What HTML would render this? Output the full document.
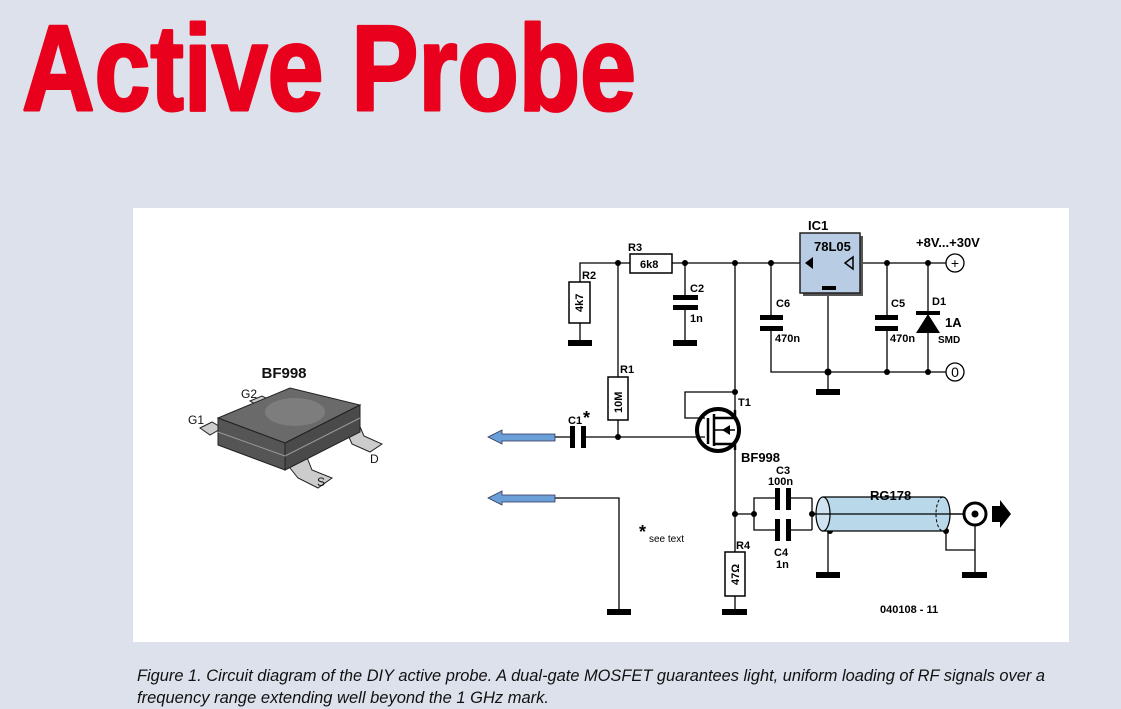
<!DOCTYPE html>
<html><head><meta charset="utf-8"><style>
html,body{margin:0;padding:0;background:#dde1ec;}
svg{display:block;}
</style></head><body>
<svg width="1121" height="709" viewBox="0 0 1121 709" xmlns="http://www.w3.org/2000/svg" font-family="Liberation Sans, Arial, sans-serif">
<rect width="1121" height="709" fill="#dde1ec"/>
<text x="22" y="110" font-size="122" font-weight="bold" fill="#e8001c" stroke="#e8001c" stroke-width="3" stroke-linejoin="round" textLength="614" lengthAdjust="spacingAndGlyphs">Active Probe</text>
<rect x="133" y="208" width="936" height="434" fill="#fff"/>

<!-- BF998 package -->
<text x="284" y="378" font-size="15" font-weight="bold" text-anchor="middle" fill="#111">BF998</text>
<g stroke="#222" stroke-width="1">
<polygon points="200,428 212,422 222,428 210,435" fill="#ccc"/>
<polygon points="250,401 262,396 272,401 260,407" fill="#ccc"/>
<polygon points="345,428 358,422 364,436 382,444 370,452 352,444" fill="#ccc"/>
<polygon points="282,458 304,450 312,470 332,478 318,488 298,478" fill="#ccc"/>
<polygon points="218,418 290,388 360,405 285,443" fill="#6a6a6a"/>
<polygon points="218,418 285,443 285,470 218,445" fill="#555"/>
<polygon points="285,443 360,405 360,432 285,470" fill="#4a4a4a"/>
</g>
<ellipse cx="295" cy="412" rx="30" ry="14" fill="#8a8a8a" opacity="0.6"/>
<line x1="218" y1="432" x2="285" y2="456" stroke="#999" stroke-width="1"/>
<line x1="285" y1="456" x2="360" y2="418" stroke="#999" stroke-width="1"/>
<g font-size="12" fill="#111">
<text x="188" y="424">G1</text><text x="241" y="398">G2</text>
<text x="370" y="463">D</text><text x="317" y="486">S</text>
</g>

<!-- wires -->
<g stroke="#000" stroke-width="1.3" fill="none">
<polyline points="580,282 580,263 630,263"/>
<line x1="672" y1="263" x2="800" y2="263"/>
<line x1="580" y1="323" x2="580" y2="343"/>
<line x1="618" y1="263" x2="618" y2="377"/>
<line x1="618" y1="420" x2="618" y2="437"/>
<line x1="685" y1="263" x2="685" y2="297"/>
<line x1="685" y1="307" x2="685" y2="343"/>
<line x1="771" y1="263" x2="771" y2="317"/>
<polyline points="771,328 771,372 928,372"/>
<line x1="828" y1="293" x2="828" y2="392"/>
<line x1="862" y1="263" x2="946" y2="263"/>
<line x1="887" y1="263" x2="887" y2="317"/>
<line x1="887" y1="328" x2="887" y2="372"/>
<line x1="928" y1="263" x2="928" y2="372"/>
<line x1="928" y1="372" x2="946" y2="372"/>
<line x1="735" y1="263" x2="735" y2="410"/>
<polyline points="735,392 685,392 685,418 705,418"/>
<line x1="555" y1="437" x2="572" y2="437"/>
<line x1="584" y1="437" x2="705" y2="437"/>
<line x1="735" y1="448" x2="735" y2="552"/>
<line x1="735" y1="596" x2="735" y2="612"/>
<line x1="735" y1="514" x2="754" y2="514"/>
<polyline points="754,514 754,498 776,498"/><line x1="788" y1="498" x2="812" y2="498"/>
<polyline points="754,514 754,530 776,530"/><line x1="788" y1="530" x2="812" y2="530"/>
<line x1="812" y1="498" x2="812" y2="530"/>
<line x1="812" y1="514" x2="963" y2="514"/>
<line x1="828" y1="530" x2="828" y2="575"/>
<polyline points="946,530 946,550 975,550"/>
<line x1="975" y1="526" x2="975" y2="575"/>
<polyline points="555,498 619,498 619,612"/>
</g>
<!-- T1 -->
<circle cx="718" cy="430" r="21" fill="none" stroke="#000" stroke-width="4"/>
<g stroke="#000" stroke-width="2.5">
<line x1="708" y1="418" x2="708" y2="444"/>
<line x1="714" y1="414" x2="714" y2="446"/>
<line x1="714" y1="418" x2="735" y2="418"/>
<line x1="714" y1="444" x2="735" y2="444"/>
<line x1="735" y1="410" x2="735" y2="418"/>
<line x1="735" y1="444" x2="735" y2="450"/>
</g>
<polygon points="722,430 730,425 730,435" fill="#000"/>
<line x1="714" y1="430" x2="735" y2="430" stroke="#000" stroke-width="1.5"/>

<!-- resistors -->
<g fill="#fff" stroke="#000" stroke-width="1.5">
<rect x="569" y="282" width="21" height="41"/>
<rect x="630" y="254" width="42" height="19"/>
<rect x="608" y="377" width="20" height="43"/>
<rect x="725" y="552" width="20" height="44"/>
</g>
<g font-size="11" font-weight="bold" fill="#000">
<text x="583" y="312" transform="rotate(-90 583 312)">4k7</text>
<text x="640" y="268">6k8</text>
<text x="622" y="413" transform="rotate(-90 622 413)">10M</text>
<text x="739" y="585" transform="rotate(-90 739 585)">47Ω</text>
</g>
<!-- capacitors -->
<g fill="#000">
<rect x="673" y="295" width="25" height="5"/><rect x="673" y="305" width="25" height="5"/>
<rect x="760" y="315" width="23" height="5"/><rect x="760" y="326" width="23" height="5"/>
<rect x="875" y="315" width="23" height="5"/><rect x="875" y="326" width="23" height="5"/>
<rect x="570" y="426" width="5" height="22"/><rect x="581" y="426" width="5" height="22"/>
<rect x="775" y="488" width="5" height="22"/><rect x="786" y="488" width="5" height="22"/>
<rect x="775" y="519" width="5" height="22"/><rect x="786" y="519" width="5" height="22"/>
<!-- grounds -->
<rect x="568" y="340" width="24" height="6"/>
<rect x="673" y="340" width="24" height="6"/>
<rect x="816" y="389" width="24" height="6"/>
<rect x="607" y="609" width="24" height="6"/>
<rect x="722" y="609" width="25" height="6"/>
<rect x="816" y="572" width="24" height="6"/>
<rect x="962" y="572" width="25" height="6"/>
<!-- diode -->
<polygon points="916,333 940,333 928,314"/>
<rect x="916" y="311" width="24" height="4"/>
</g>
<!-- dots -->
<g fill="#000">
<circle cx="618" cy="263" r="3"/><circle cx="685" cy="263" r="3"/><circle cx="735" cy="263" r="3"/>
<circle cx="771" cy="263" r="3"/><circle cx="887" cy="263" r="3"/><circle cx="928" cy="263" r="3"/>
<circle cx="828" cy="372" r="3.5"/><circle cx="887" cy="372" r="3"/><circle cx="928" cy="372" r="3"/>
<circle cx="735" cy="392" r="3"/><circle cx="618" cy="437" r="3"/>
<circle cx="735" cy="514" r="3"/><circle cx="754" cy="514" r="3"/><circle cx="812" cy="514" r="3"/>
<circle cx="830" cy="531" r="3"/><circle cx="946" cy="531" r="3"/>
</g>
<!-- IC1 -->
<rect x="803" y="236" width="60" height="60" fill="#555"/>
<rect x="800" y="233" width="60" height="60" fill="#b8cce4" stroke="#222" stroke-width="1.5"/>
<polygon points="805,263 813,257 813,269" fill="#000"/>
<polygon points="845,263 853,257 853,269" fill="none" stroke="#000" stroke-width="1.5"/>
<rect x="822" y="286" width="14" height="4" fill="#000"/>
<!-- terminals -->
<circle cx="955" cy="263" r="9" fill="#fff" stroke="#000" stroke-width="1.3"/>
<circle cx="955" cy="372" r="9" fill="#fff" stroke="#000" stroke-width="1.3"/>
<g font-size="14" text-anchor="middle"><text x="955" y="268">+</text><text x="955" y="377">0</text></g>

<!-- coax -->
<path d="M823,497 L943,497 A7,17 0 0 1 943,531 L823,531 Z" fill="#b9d8ea" stroke="#000" stroke-width="1.2"/>
<ellipse cx="823" cy="514" rx="7" ry="17" fill="#cfe4f0" stroke="#000" stroke-width="1.2"/>
<path d="M943,497 A7,17 0 0 0 943,531" fill="none" stroke="#000" stroke-dasharray="3,2"/>
<line x1="812" y1="514" x2="963" y2="514" stroke="#000" stroke-width="1.3"/>
<circle cx="975" cy="514" r="11" fill="#fff" stroke="#000" stroke-width="3"/>
<circle cx="975" cy="514" r="3.5" fill="#000"/>
<polygon points="992,506 1000,506 1000,500 1011,514 1000,528 1000,522 992,522" fill="#000"/>

<!-- probe arrows -->
<g fill="#6a9fd8" stroke="#335" stroke-width="0.8">
<polygon points="488,437 502,430 502,434 555,434 555,441 502,441 502,444"/>
<polygon points="488,498 502,491 502,495 555,495 555,502 502,502 502,505"/>
</g>

<!-- labels -->
<g font-size="11" font-weight="bold" fill="#000">
<text x="582" y="279">R2</text><text x="628" y="251">R3</text>
<text x="690" y="292">C2</text><text x="690" y="322">1n</text>
<text x="776" y="307">C6</text><text x="775" y="342">470n</text>
<text x="891" y="307">C5</text><text x="890" y="342">470n</text>
<text x="932" y="305">D1</text><text x="938" y="343" font-size="10">SMD</text>
<text x="620" y="373">R1</text><text x="738" y="406">T1</text>
<text x="568" y="424">C1</text>
<text x="736" y="549">R4</text>
<text x="776" y="474">C3</text><text x="768" y="485">100n</text>
<text x="774" y="556">C4</text><text x="776" y="568">1n</text>
<text x="880" y="613">040108 - 11</text>
<text x="649" y="542" font-weight="normal" font-size="10">see text</text>
</g>
<text x="583" y="424" font-size="18" font-weight="bold">*</text>
<text x="639" y="538" font-size="18" font-weight="bold">*</text>
<g font-size="13" font-weight="bold" fill="#000">
<text x="808" y="230">IC1</text><text x="814" y="251">78L05</text>
<text x="916" y="247">+8V...+30V</text>
<text x="945" y="327">1A</text>
<text x="870" y="500">RG178</text>
<text x="741" y="462">BF998</text>
</g>

<!-- caption -->
<g font-size="16.5" font-style="italic" fill="#111">
<text x="137" y="681" textLength="908" lengthAdjust="spacingAndGlyphs">Figure 1. Circuit diagram of the DIY active probe. A dual-gate MOSFET guarantees light, uniform loading of RF signals over a</text>
<text x="137" y="703" textLength="412" lengthAdjust="spacingAndGlyphs">frequency range extending well beyond the 1 GHz mark.</text>
</g>
</svg>
</body></html>
